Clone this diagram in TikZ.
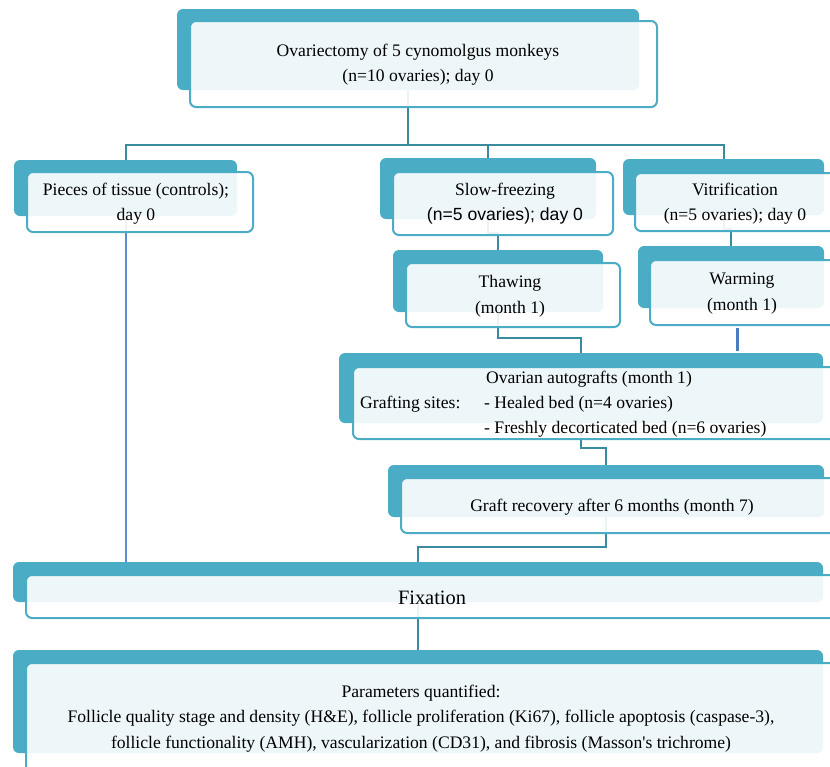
\documentclass[tikz,border=0pt]{standalone}
\usepackage{fontspec}
\setmainfont{Liberation Serif}
\setsansfont{Liberation Sans}
\definecolor{aqua}{HTML}{4BACC6}
\definecolor{linkteal}{HTML}{3A8AA0}
\definecolor{linkblue}{HTML}{5B8DD3}
\definecolor{barblue}{HTML}{4A7CC0}
\begin{document}
\begin{tikzpicture}[x=1pt,y=-1pt,
  back/.style={fill=aqua, rounded corners=6pt, inner sep=0pt, outer sep=0pt},
  front/.style={draw=aqua, line width=2pt, fill=white, fill opacity=0.9, rounded corners=6pt, inner sep=0pt, outer sep=0pt},
  txt/.style={align=center, inner sep=0pt, font=\fontsize{17.6}{25.5}\selectfont},
  link/.style={draw=linkteal, line width=2pt},
  blink/.style={draw=linkblue, line width=2pt}]
\useasboundingbox (0,0) rectangle (830,766);
\clip (0,0) rectangle (830,766);

\node[back, minimum width=462pt, minimum height=81pt] (topB) at (408,49.5) {};
\node[back, minimum width=223pt, minimum height=56pt] (piecesB) at (125.5,188) {};
\node[back, minimum width=216pt, minimum height=61pt] (slowB) at (488,188.5) {};
\node[back, minimum width=201pt, minimum height=56pt] (vitB) at (723.5,187) {};
\node[back, minimum width=210pt, minimum height=62pt] (thawB) at (498,281) {};
\node[back, minimum width=186pt, minimum height=62pt] (warmB) at (731,277) {};
\node[back, minimum width=484pt, minimum height=70pt] (autoB) at (581,388) {};
\node[back, minimum width=436pt, minimum height=52pt] (graftB) at (606,491) {};
\node[back, minimum width=810pt, minimum height=40pt] (fixB) at (418,582) {};
\node[back, minimum width=810pt, minimum height=103pt] (paramsB) at (418,701.5) {};

\draw[link] (topB.south) -- ++(0,55) coordinate (split);
\draw[link] (split) -| (piecesB.north);
\draw[link] (split) -| (slowB.north);
\draw[link] (split) -| (vitB.north);
\draw[link] (slowB.south) -- ++(0,14) -| (thawB.north);
\draw[link] (vitB.south) -- ++(0,14) -| (warmB.north);
\draw[link] (thawB.south) -- ++(0,26) -| (autoB.north);
\draw[link] (autoB.south) -- ++(0,25) -| (graftB.north);
\draw[link] (graftB.south) -- ++(0,30) -| (fixB.north);
\draw[link] (fixB.south) -- (paramsB.north);
\draw[blink] (piecesB.south) -- (piecesB.south |- fixB.north);

\node[front, minimum width=467pt, minimum height=86pt] (topF) at (423.5,64) {};
\node[front, minimum width=226pt, minimum height=60pt] (piecesF) at (140,202) {};
\node[front, minimum width=220pt, minimum height=63pt] (slowF) at (503,203.5) {};
\node[front, minimum width=205pt, minimum height=58pt] (vitF) at (737.5,202) {};
\node[front, minimum width=214pt, minimum height=64pt] (thawF) at (513,295) {};
\node[front, minimum width=190pt, minimum height=65pt] (warmF) at (745,292.5) {};
\node[front, minimum width=488pt, minimum height=72pt] (autoF) at (597,403) {};
\node[front, minimum width=440pt, minimum height=55pt] (graftF) at (621,505.5) {};
\node[front, minimum width=814pt, minimum height=43pt] (fixF) at (433,596.5) {};
\node[front, minimum width=814pt, minimum height=109pt] (paramsF) at (433,717.5) {};

\draw[draw=barblue, line width=3pt] ([xshift=-8pt,yshift=-3pt]warmF.south) -- ([xshift=-8pt,yshift=2pt]warmF.south |- autoB.north);

\node[txt] (top) at (418,64.5) {Ovariectomy of 5 cynomolgus monkeys\\(n=10 ovaries); day 0};
\node[txt] (pieces) at (136,203.5) {Pieces of tissue (controls);\\day 0};
\node[txt] (slow) at (505,203.5) {Slow-freezing\\{\sffamily (n=5 ovaries); day 0}};
\node[txt] (vit) at (735,203.5) {Vitrification\\(n=5 ovaries); day 0};
\node[txt] (thaw) at (510,296.5) {Thawing\\(month 1)};
\node[txt] (warm) at (742,293.5) {Warming\\(month 1)};
\node[txt] (auto) at (589,379) {Ovarian autografts (month 1)};
\node[txt, anchor=west] (sites) at (360,404) {Grafting sites:};
\node[txt, anchor=west] (healed) at (484,404) {- Healed bed (n=4 ovaries)};
\node[txt, anchor=west] (fresh) at (484,429.5) {- Freshly decorticated bed (n=6 ovaries)};
\node[txt] (graft) at (612,507) {Graft recovery after 6 months (month 7)};
\node[txt, font=\fontsize{20.4}{25}\selectfont] (fix) at (432,597.5) {Fixation};
\node[txt] (params) at (421,718.5) {Parameters quantified:\\Follicle quality stage and density (H\&E), follicle proliferation (Ki67), follicle apoptosis (caspase-3),\\follicle functionality (AMH), vascularization (CD31), and fibrosis (Masson\textquotesingle s trichrome)};
\end{tikzpicture}
\end{document}
